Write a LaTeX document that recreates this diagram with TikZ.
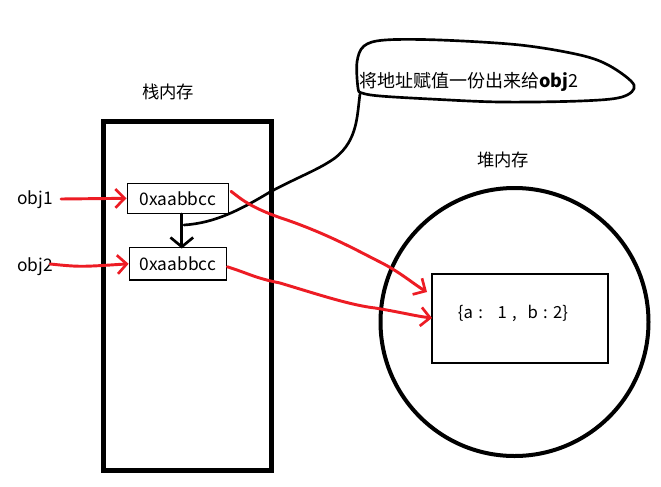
\documentclass[tikz,border=0pt]{standalone}
\usepackage{fontspec}
\setmainfont{Noto Sans CJK SC}
\usetikzlibrary{arrows.meta}
\definecolor{penred}{HTML}{ED1C24}
\tikzset{
  lbl/.style={inner sep=0pt, font=\fontsize{13}{15}\selectfont},
  membox/.style={draw, line width=1.1pt, inner sep=0pt, font=\fontsize{13}{15}\selectfont},
  redpen/.style={draw=penred, line width=2.2pt, line cap=round, line join=round,
    -{Straight Barb[length=7pt,width=14pt,line width=2pt]}},
  blackpen/.style={draw=black, line width=2pt, line cap=round, line join=round}
}
\begin{document}
\begin{tikzpicture}[x=0.75pt,y=-0.75pt]
\useasboundingbox (0,0) rectangle (661,486);
\fill[white] (0,0) rectangle (661,486);

% stack
\node[draw, line width=3.75pt, minimum width=126pt, minimum height=262pt, inner sep=0pt] (stack) at (187.5,296.25) {};
\node[lbl] (stacktitle) at (168,92) {栈内存};

% boxes
\node[membox, minimum width=75.75pt, minimum height=22.5pt] (b1) at (177.8,198.3) {0xaabbcc};
\node[membox, minimum width=73pt, minimum height=24.2pt] (b2) at (178,263.8) {0xaabbcc};

\node[lbl, anchor=west] (obj1) at (17,200) {obj1};
\node[lbl, anchor=west] (obj2) at (17,267) {obj2};

% heap
\node[draw, circle, line width=3pt, minimum size=201pt, inner sep=0pt] (heap) at (514.5,322) {};
\node[lbl] (heaptitle) at (503,160) {堆内存};
\node[draw, line width=1.1pt, minimum width=132pt, minimum height=66.75pt, inner sep=0pt] (obj) at (520,318.5) {};
\node[inner sep=0pt, font=\fontsize{12.5}{14}\selectfont] (objtext) at (513,313)
  {\{a\hspace{4pt}:\hspace{11pt}1\hspace{4pt},\hspace{8pt}b\hspace{4pt}:\hspace{4pt}2\}};
\coordinate (in1) at (427,292);
\coordinate (in2) at (432,318);

% bubble
\draw[blackpen] plot[smooth cycle, tension=0.55] coordinates {
  (358,88) (357,62) (364,46) (385,40) (440,40) (520,45) (580,55) (610,66) (634,85)
  (622,97) (580,101) (500,102) (430,99) (380,96) (362,93)};
\node[inner sep=0pt, anchor=west, font=\fontsize{13.5}{15}\selectfont] (note) at (359,82) {将地址赋值一份出来给\textbf{obj}2};
\coordinate (tail) at (360,94);
\coordinate (tailend) at (184,225);
\draw[blackpen] (tail) .. controls (357,115) and (358,140) .. (335,158)
  .. controls (318,170) and (300,176) .. (270,192)
  .. controls (240,210) and (215,223) .. (tailend);

% copy arrow
\draw[blackpen, -{Straight Barb[length=7pt,width=17pt,line width=2pt]}] (b1.south) ++(4,0) -- ++(0,34.5);

% obj pointers
\draw[redpen] (obj1.east) ++(8,-1) -- (b1.west);
\draw[redpen] (obj2.east) ++(-3,-3) .. controls (80,267) .. (b2.west);

% references into heap
\draw[redpen] (b1.east) ++(2,-7) .. controls (240,198) and (250,208) .. (287,220)
  .. controls (330,235) and (360,252) .. (380,262)
  .. controls (400,272) and (415,285) .. (in1);
\draw[redpen] (b2.east) ++(0,3) .. controls (250,274) and (255,278) .. (280,283)
  .. controls (320,295) and (350,305) .. (375,308)
  .. controls (400,312) and (415,316) .. (in2);
\end{tikzpicture}
\end{document}
